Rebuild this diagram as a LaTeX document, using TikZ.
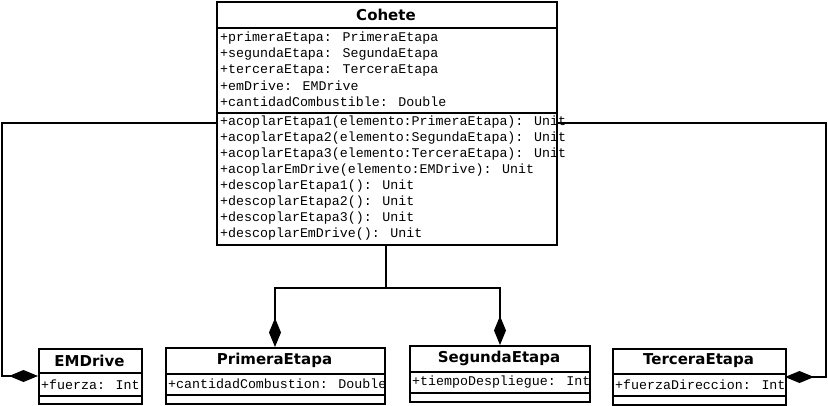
\documentclass[tikz,border=0pt]{standalone}
\usepackage{fontspec}
\setmainfont{DejaVu Sans}
\newfontfamily\umlmono{Liberation Mono}
\newfontfamily\umltitle{DejaVu Sans}
\usetikzlibrary{arrows.meta}
\tikzset{
  box/.style={draw=black, line width=2pt, fill=white, inner sep=0pt, anchor=north west},
  divider/.style={draw=black, line width=2pt},
  ttl/.style={inner sep=0pt, font=\umltitle\bfseries\fontsize{15}{17}\selectfont},
  mem/.style={inner sep=0pt, anchor=west, font=\umlmono\fontsize{13.3}{16}\selectfont},
  link/.style={draw=black, line width=2pt},
  compo/.style={link, -{Diamond[length=29pt,width=12pt,fill=black]}}
}
\begin{document}
\begin{tikzpicture}[x=1pt,y=-1pt]
\useasboundingbox (0,0) rectangle (828,405);

% Cohete
\node[box, minimum width=340pt, minimum height=243pt] (cohete) at (216,1) {};
\draw[divider] (216,28) -- (556,28);
\draw[divider] (216,113) -- (556,113);
\node[ttl] (cohetet) at (386,15) {Cohete};
\node[mem] (a1) at (220,38) {+primeraEtapa: PrimeraEtapa};
\node[mem] (a2) at (220,54) {+segundaEtapa: SegundaEtapa};
\node[mem] (a3) at (220,70) {+terceraEtapa: TerceraEtapa};
\node[mem] (a4) at (220,86) {+emDrive: EMDrive};
\node[mem] (a5) at (220,102) {+cantidadCombustible: Double};
\node[mem] (m1) at (220,122) {+acoplarEtapa1(elemento:PrimeraEtapa): Unit};
\node[mem] (m2) at (220,138) {+acoplarEtapa2(elemento:SegundaEtapa): Unit};
\node[mem] (m3) at (220,154) {+acoplarEtapa3(elemento:TerceraEtapa): Unit};
\node[mem] (m4) at (220,170) {+acoplarEmDrive(elemento:EMDrive): Unit};
\node[mem] (m5) at (220,186) {+descoplarEtapa1(): Unit};
\node[mem] (m6) at (220,202) {+descoplarEtapa2(): Unit};
\node[mem] (m7) at (220,218) {+descoplarEtapa3(): Unit};
\node[mem] (m8) at (220,234) {+descoplarEmDrive(): Unit};

% EMDrive
\node[box, minimum width=103pt, minimum height=55pt] (emd) at (38,348) {};
\draw[divider] (38,373) -- (141,373);
\draw[divider] (38,396) -- (141,396);
\node[ttl] (emdt) at (89.5,361) {EMDrive};
\node[mem] (emda) at (41,385) {+fuerza: Int};

% PrimeraEtapa
\node[box, minimum width=219pt, minimum height=56pt] (pe) at (165,347) {};
\draw[divider] (165,374) -- (384,374);
\draw[divider] (165,395) -- (384,395);
\node[ttl] (pet) at (274.5,360) {PrimeraEtapa};
\node[mem] (pea) at (168,384) {+cantidadCombustion: Double};

% SegundaEtapa
\node[box, minimum width=180pt, minimum height=56pt] (se) at (409,345) {};
\draw[divider] (409,372) -- (589,372);
\draw[divider] (409,393) -- (589,393);
\node[ttl] (set) at (499,358) {SegundaEtapa};
\node[mem] (sea) at (412,382) {+tiempoDespliegue: Int};

% TerceraEtapa
\node[box, minimum width=173pt, minimum height=56pt] (te) at (612,348) {};
\draw[divider] (612,374) -- (785,374);
\draw[divider] (612,396) -- (785,396);
\node[ttl] (tet) at (698.5,361) {TerceraEtapa};
\node[mem] (tea) at (615,385) {+fuerzaDireccion: Int};

% connection points
\coordinate (cL) at (216,123);
\coordinate (cR) at (556,123);
\coordinate (cB) at (386,244);
\coordinate (emdIn) at (38,376);
\coordinate (teIn) at (785,377);
\coordinate (peIn) at (275,347);
\coordinate (seIn) at (500,345);
\coordinate (split) at (386,288);

\draw[compo] (cL) -- (2,123) -- (2,376) -- (emdIn);
\draw[compo] (cR) -- (826,123) -- (826,377) -- (teIn);
\draw[link] (cB) -- (split);
\draw[compo] (split) -- (275,288) -- (peIn);
\draw[compo] (split) -- (500,288) -- (seIn);
\end{tikzpicture}
\end{document}
